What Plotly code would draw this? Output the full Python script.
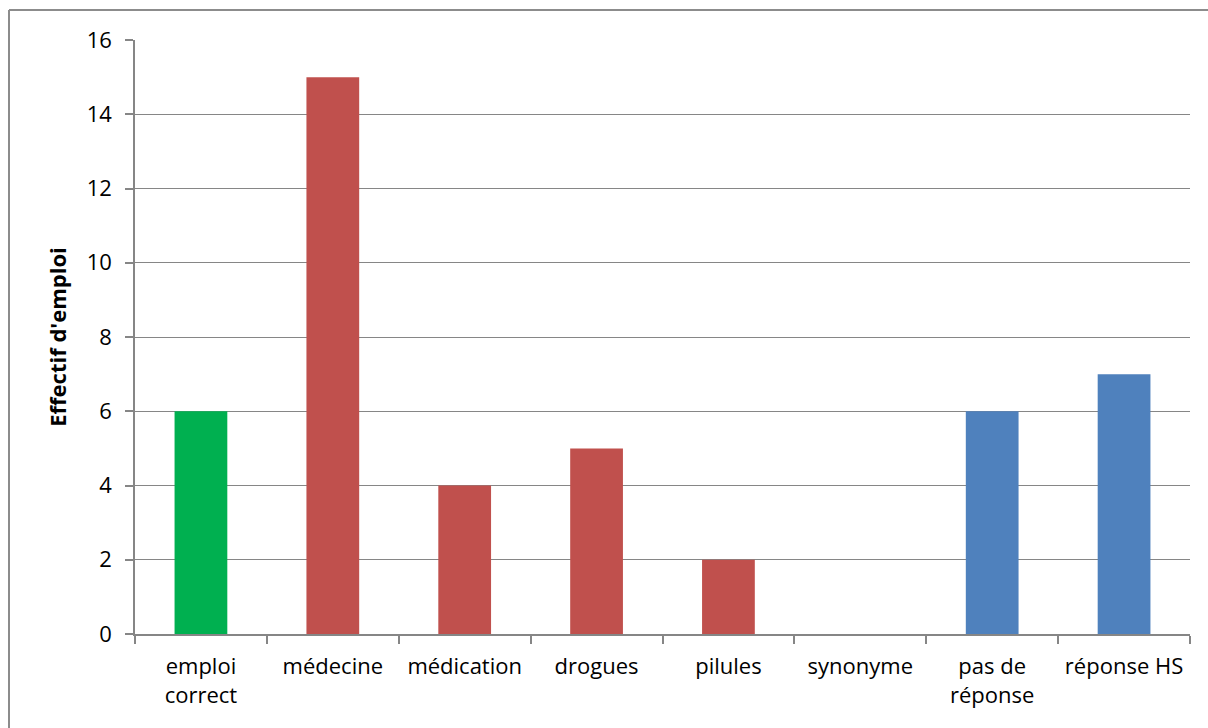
import plotly.graph_objects as go

categories = ["emploi<br>correct", "médecine", "médication", "drogues", "pilules", "synonyme", "pas de<br>réponse", "réponse HS"]
values = [6, 15, 4, 5, 2, 0, 6, 7]
colors = ["#00B050", "#C0504D", "#C0504D", "#C0504D", "#C0504D", "#C0504D", "#4F81BD", "#4F81BD"]
y_ticks = [0, 2, 4, 6, 8, 10, 12, 14, 16]

W, H = 1208, 728
L, R, T, B = 135, 18, 40, 94

fig = go.Figure(go.Bar(x=categories, y=values, marker=dict(color=colors, line=dict(width=0)), width=0.4))

pw = W - L - R
ph = H - T - B
bx = (9 - L) / pw
by = (H - B - 10) / ph

fig.update_layout(
    width=W, height=H,
    margin=dict(l=L, r=R, t=T, b=B, pad=0),
    paper_bgcolor="white", plot_bgcolor="white",
    font=dict(family="Open Sans, Lato, sans-serif", size=22, color="#000000"),
    showlegend=False,
    xaxis=dict(
        showline=True, linecolor="#868686", linewidth=1.5,
        ticks="outside", tickson="boundaries", ticklen=8, tickcolor="#868686", tickwidth=1.5,
        showgrid=False, tickfont=dict(size=22), ticklabelstandoff=12,
    ),
    yaxis=dict(
        range=[0, 16], tickvals=y_ticks, showline=True, linecolor="#868686", linewidth=1.5,
        ticks="outside", ticklen=8, tickcolor="#868686", tickwidth=1.5,
        showgrid=True, gridcolor="#868686", gridwidth=1.2,
        zeroline=False, tickfont=dict(size=22), ticklabelstandoff=9,
        title=dict(text="<b>Effectif d'emploi</b>", font=dict(size=22), standoff=14),
    ),
    shapes=[
        dict(type="line", xref="paper", yref="paper", x0=bx, x1=1.1, y0=by, y1=by,
             line=dict(color="#8C8C8C", width=2)),
        dict(type="line", xref="paper", yref="paper", x0=bx, x1=bx, y0=by, y1=-0.3,
             line=dict(color="#8C8C8C", width=2)),
    ],
)

fig.write_html(
    "out.html",
    config={"displayModeBar": False},
    post_script="document.body.style.margin='0';document.body.style.overflow='hidden';",
)
